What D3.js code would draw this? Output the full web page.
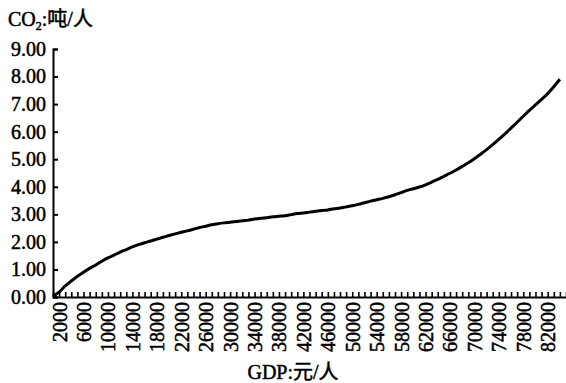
<!DOCTYPE html>
<html>
<head>
<meta charset="utf-8">
<script src="https://cdn.jsdelivr.net/npm/d3@7"></script>
<style>
  body { margin: 0; background: #fff; }
  text { font-family: "Liberation Serif", "Noto Sans CJK SC", serif; fill: #000; stroke: #000; stroke-width: 0.5px; }
</style>
</head>
<body>
<div id="chart"></div>
<script>
// GDP per capita (yuan) and CO2 per capita (ton)
var gdp = [1000, 2000, 3000, 4000, 5000, 6000, 7000, 8000, 9000, 10000,
  11000, 12000, 13000, 14000, 15000, 16000, 17000, 18000, 19000, 20000,
  21000, 22000, 23000, 24000, 25000, 26000, 27000, 28000, 29000, 30000,
  31000, 32000, 33000, 34000, 35000, 36000, 37000, 38000, 39000, 40000,
  41000, 42000, 43000, 44000, 45000, 46000, 47000, 48000, 49000, 50000,
  51000, 52000, 53000, 54000, 55000, 56000, 57000, 58000, 59000, 60000,
  61000, 62000, 63000, 64000, 65000, 66000, 67000, 68000, 69000, 70000,
  71000, 72000, 73000, 74000, 75000, 76000, 77000, 78000, 79000, 80000,
  81000, 82000, 83000, 84000];
var co2 = [0.03, 0.18, 0.40, 0.58, 0.75, 0.90, 1.04, 1.16, 1.30, 1.42,
  1.52, 1.63, 1.72, 1.82, 1.90, 1.97, 2.03, 2.10, 2.17, 2.23,
  2.29, 2.35, 2.40, 2.46, 2.52, 2.57, 2.62, 2.66, 2.69, 2.71,
  2.74, 2.77, 2.79, 2.83, 2.86, 2.88, 2.91, 2.93, 2.95, 2.99,
  3.03, 3.05, 3.08, 3.11, 3.14, 3.16, 3.20, 3.23, 3.27, 3.31,
  3.36, 3.42, 3.48, 3.53, 3.58, 3.64, 3.71, 3.79, 3.87, 3.93,
  3.99, 4.07, 4.17, 4.27, 4.38, 4.49, 4.61, 4.74, 4.87, 5.02,
  5.18, 5.35, 5.53, 5.72, 5.92, 6.13, 6.34, 6.56, 6.77, 6.97,
  7.17, 7.38, 7.63, 7.90];

// axis ticks
var yTicks = [0, 1, 2, 3, 4, 5, 6, 7, 8, 9];
var xTicks = d3.range(1000, 85001, 1000);
var xLabels = d3.range(2000, 82001, 4000);

var width = 566;
var height = 383;

var svg = d3.select("#chart")
  .append("svg")
  .attr("width", width)
  .attr("height", height);

var xScale = d3.scaleLinear().domain([1000, 85000]).range([53, 566]);
var yScale = d3.scaleLinear().domain([0, 9]).range([297, 49]);

// y axis, ticks pointing inward
var yAxis = d3.axisLeft(yScale)
  .tickValues(yTicks)
  .tickSize(-5)
  .tickSizeOuter(-5)
  .tickPadding(7)
  .tickFormat(d3.format(".2f"));

var yG = svg.append("g")
  .attr("transform", "translate(53,0)")
  .call(yAxis);
yG.selectAll("path, line").attr("stroke", "#000").attr("stroke-width", 2);
yG.selectAll("text")
  .attr("font-size", 20)
  .attr("font-family", "Liberation Serif");

// x axis, small ticks pointing up, labels every 4000 rotated
var xAxis = d3.axisBottom(xScale)
  .tickValues(xTicks)
  .tickSize(-5)
  .tickSizeOuter(0)
  .tickFormat(function(d) {
    return xLabels.indexOf(d) >= 0 ? d : "";
  });

var xG = svg.append("g")
  .attr("transform", "translate(0,297)")
  .call(xAxis);
xG.selectAll("path, line").attr("stroke", "#000").attr("stroke-width", 1.6);
xG.select("path").attr("stroke-width", 2);
xG.selectAll("text")
  .attr("font-size", 20)
  .attr("font-family", "Liberation Serif")
  .attr("transform", "rotate(-90)")
  .attr("text-anchor", "end")
  .attr("x", -5)
  .attr("y", 0)
  .attr("dy", "0.35em");

// the curve
var points = gdp.map(function(g, i) { return [g, co2[i]]; });
var line = d3.line()
  .x(function(d) { return xScale(d[0]); })
  .y(function(d) { return yScale(d[1]); })
  .curve(d3.curveMonotoneX);

svg.append("path")
  .datum(points)
  .attr("d", line)
  .attr("fill", "none")
  .attr("stroke", "#000")
  .attr("stroke-width", 3);

// axis titles
var yTitle = svg.append("text")
  .attr("x", 8)
  .attr("y", 26)
  .attr("font-size", 20);
yTitle.append("tspan").text("CO");
yTitle.append("tspan").attr("font-size", 12).attr("dy", 4).text("2");
yTitle.append("tspan").attr("dy", -4).text(":吨/人");

svg.append("text")
  .attr("x", 293)
  .attr("y", 379)
  .attr("text-anchor", "middle")
  .attr("font-size", 20)
  .text("GDP:元/人");
</script>
</body>
</html>
